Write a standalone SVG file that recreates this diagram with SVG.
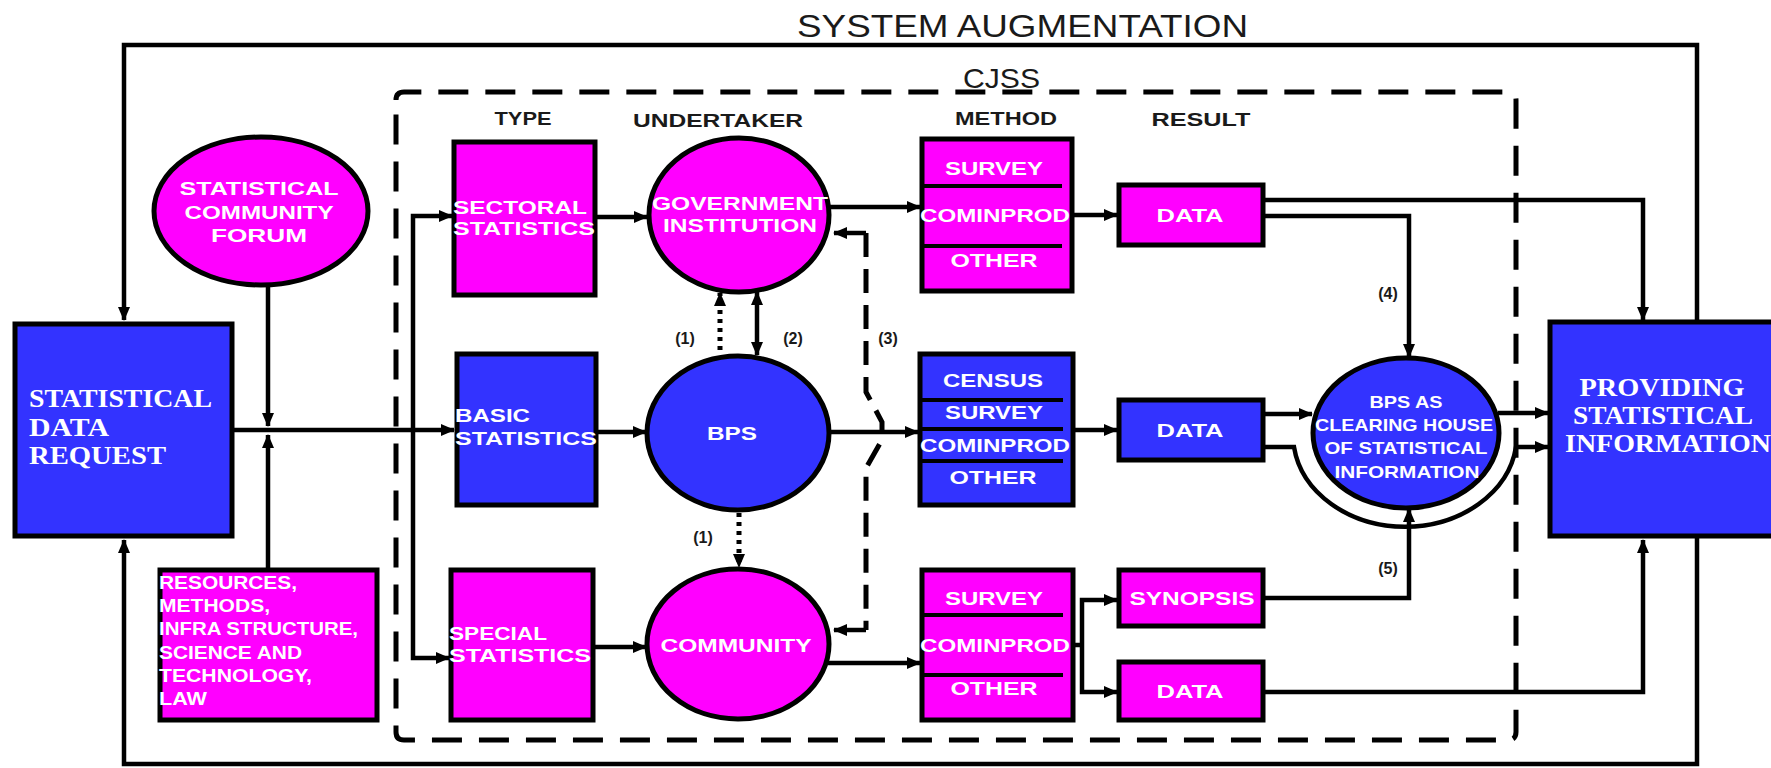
<svg xmlns="http://www.w3.org/2000/svg" width="1771" height="768" viewBox="0 0 1771 768">
<defs>
<marker id="ah" markerUnits="userSpaceOnUse" markerWidth="14" markerHeight="12" refX="13" refY="6" orient="auto-start-reverse" viewBox="0 0 14 12">
<path d="M0,0 L14,6 L0,12 z" fill="#000"/>
</marker>
<style>
.box{stroke:#000;stroke-width:5}
.mag{fill:#ff00ff}
.blu{fill:#3333ff}
.ln{fill:none;stroke:#000;stroke-width:4.5}
.arr{marker-end:url(#ah)}
.dash{fill:none;stroke:#000;stroke-width:5;stroke-dasharray:30 17}
.dot{fill:none;stroke:#000;stroke-width:5;stroke-dasharray:4 5}
.div{stroke:#000;stroke-width:4}
.t{font-family:"Liberation Sans",Arial,sans-serif;font-weight:bold;fill:#fff;dominant-baseline:central;font-size:19px}
.ts{font-family:"Liberation Serif","Times New Roman",serif;font-weight:bold;fill:#fff;dominant-baseline:central}
.h{font-family:"Liberation Sans",Arial,sans-serif;font-weight:bold;fill:#1a1a1a;font-size:19px;text-anchor:middle;dominant-baseline:central}
.lbl{font-family:"Liberation Sans",Arial,sans-serif;font-weight:bold;fill:#1a1a1a;font-size:16px;text-anchor:middle;dominant-baseline:central}
</style>
</defs>
<rect width="1771" height="768" fill="#fff"/>

<g id="cjss-boundary">
<path class="dash" d="M396,100 Q396,92 404,92 H1508 Q1516,92 1516,100 V732 Q1516,740 1508,740 H404 Q396,740 396,732 Z"/>
</g>

<g id="titles">
<text x="797" y="37" font-family="Liberation Sans,Arial,sans-serif" font-size="32" fill="#1a1a1a" textLength="451" lengthAdjust="spacingAndGlyphs">SYSTEM AUGMENTATION</text>
<text x="963" y="88" font-family="Liberation Sans,Arial,sans-serif" font-size="28" fill="#1a1a1a" textLength="77" lengthAdjust="spacingAndGlyphs">CJSS</text>
<text class="h" x="523" y="118" textLength="57" lengthAdjust="spacingAndGlyphs">TYPE</text>
<text class="h" x="718" y="120" textLength="170" lengthAdjust="spacingAndGlyphs">UNDERTAKER</text>
<text class="h" x="1006" y="118" textLength="102" lengthAdjust="spacingAndGlyphs">METHOD</text>
<text class="h" x="1201" y="119" textLength="99" lengthAdjust="spacingAndGlyphs">RESULT</text>
</g>

<g id="connectors">
<path class="ln arr" d="M1697,320 V45 H124 V320"/>
<path class="ln arr" d="M1697,538 V764 H124 V540"/>
<path class="ln arr" d="M234,430 H454"/>
<path class="ln arr" d="M268,285 V426"/>
<path class="ln arr" d="M268,568 V435"/>
<path class="ln arr" d="M413,430 V216 H452"/>
<path class="ln arr" d="M413,430 V658 H449"/>
<path class="ln arr" d="M597,217 H647"/>
<path class="ln arr" d="M598,432 H646"/>
<path class="ln arr" d="M595,647 H646"/>
<path class="ln arr" d="M828,207 H920"/>
<path class="ln arr" d="M829,432 H918"/>
<path class="ln arr" d="M828,663 H920"/>
<path class="ln arr" d="M1074,215 H1117"/>
<path class="ln arr" d="M1075,430 H1117"/>
<path class="ln" d="M1075,645 H1082"/>
<path class="ln arr" d="M1082,645 V600 H1117"/>
<path class="ln arr" d="M1082,645 V692 H1117"/>
<path class="ln arr" d="M1265,200 H1643 V320"/>
<path class="ln arr" d="M1265,216 H1409 V357"/>
<path class="ln arr" d="M1265,414 H1312"/>
<path class="ln arr" d="M1265,447 H1294 A112,92 0 0 0 1516,447 H1548"/>
<path class="ln arr" d="M1498,413 H1548"/>
<path class="ln arr" d="M1265,598 H1409 V509"/>
<path class="ln arr" d="M1265,692 H1643 V540"/>
<path class="dot arr" d="M720,350 V293"/>
<path class="ln arr" d="M757,322 V292"/>
<path class="ln arr" d="M757,322 V355"/>
<path class="dot arr" d="M739,513 V567"/>
<path class="dash" style="stroke-dasharray:24 12" d="M866,233 V392 L882,422 V440 L866,468 V630"/>
<path class="ln arr" d="M866,233 H834"/>
<path class="ln arr" d="M866,630 H834"/>
<text class="lbl" x="685" y="338">(1)</text>
<text class="lbl" x="793" y="338">(2)</text>
<text class="lbl" x="888" y="338">(3)</text>
<text class="lbl" x="703" y="537">(1)</text>
<text class="lbl" x="1388" y="293">(4)</text>
<text class="lbl" x="1388" y="568">(5)</text>
</g>

<g id="statistical-data-request">
<rect class="box blu" x="15" y="324" width="217" height="212"/>
<text class="ts" font-size="25" x="29" y="398" textLength="183" lengthAdjust="spacingAndGlyphs">STATISTICAL</text>
<text class="ts" font-size="25" x="29" y="427" textLength="80" lengthAdjust="spacingAndGlyphs">DATA</text>
<text class="ts" font-size="25" x="29" y="455" textLength="137" lengthAdjust="spacingAndGlyphs">REQUEST</text>
</g>

<g id="statistical-community-forum">
<ellipse class="box mag" cx="261" cy="211" rx="107" ry="74"/>
<text class="t" x="259" y="188" text-anchor="middle" textLength="159" lengthAdjust="spacingAndGlyphs">STATISTICAL</text>
<text class="t" x="259" y="212" text-anchor="middle" textLength="149" lengthAdjust="spacingAndGlyphs">COMMUNITY</text>
<text class="t" x="259" y="235" text-anchor="middle" textLength="96" lengthAdjust="spacingAndGlyphs">FORUM</text>
</g>

<g id="resources">
<rect class="box mag" x="160" y="570" width="217" height="150"/>
<text class="t" x="159" y="582" textLength="138" lengthAdjust="spacingAndGlyphs">RESOURCES,</text>
<text class="t" x="159" y="605" textLength="111" lengthAdjust="spacingAndGlyphs">METHODS,</text>
<text class="t" x="159" y="628" textLength="199" lengthAdjust="spacingAndGlyphs">INFRA STRUCTURE,</text>
<text class="t" x="159" y="652" textLength="143" lengthAdjust="spacingAndGlyphs">SCIENCE AND</text>
<text class="t" x="159" y="675" textLength="153" lengthAdjust="spacingAndGlyphs">TECHNOLOGY,</text>
<text class="t" x="159" y="698" textLength="48" lengthAdjust="spacingAndGlyphs">LAW</text>
</g>

<g id="sectoral-statistics">
<rect class="box mag" x="454" y="142" width="141" height="153"/>
<text class="t" x="453" y="207" textLength="134" lengthAdjust="spacingAndGlyphs">SECTORAL</text>
<text class="t" x="453" y="228" textLength="142" lengthAdjust="spacingAndGlyphs">STATISTICS</text>
</g>

<g id="basic-statistics">
<rect class="box blu" x="457" y="354" width="139" height="151"/>
<text class="t" x="455" y="415" textLength="75" lengthAdjust="spacingAndGlyphs">BASIC</text>
<text class="t" x="455" y="438" textLength="142" lengthAdjust="spacingAndGlyphs">STATISTICS</text>
</g>

<g id="special-statistics">
<rect class="box mag" x="451" y="570" width="142" height="150"/>
<text class="t" x="449" y="633" textLength="98" lengthAdjust="spacingAndGlyphs">SPECIAL</text>
<text class="t" x="449" y="655" textLength="142" lengthAdjust="spacingAndGlyphs">STATISTICS</text>
</g>

<g id="government-institution">
<ellipse class="box mag" cx="739" cy="215" rx="90" ry="77"/>
<text class="t" x="740" y="203" text-anchor="middle" textLength="176" lengthAdjust="spacingAndGlyphs">GOVERNMENT</text>
<text class="t" x="740" y="225" text-anchor="middle" textLength="154" lengthAdjust="spacingAndGlyphs">INSTITUTION</text>
</g>

<g id="bps">
<ellipse class="box blu" cx="738" cy="433" rx="91" ry="77"/>
<text class="t" x="732" y="433" text-anchor="middle" textLength="50" lengthAdjust="spacingAndGlyphs">BPS</text>
</g>

<g id="community">
<ellipse class="box mag" cx="738" cy="644" rx="91" ry="75"/>
<text class="t" x="736" y="645" text-anchor="middle" textLength="151" lengthAdjust="spacingAndGlyphs">COMMUNITY</text>
</g>

<g id="method-government">
<rect class="box mag" x="922" y="139" width="150" height="152"/>
<line class="div" x1="920" y1="186" x2="1062" y2="186"/>
<line class="div" x1="920" y1="246" x2="1062" y2="246"/>
<text class="t" x="994" y="168" text-anchor="middle" textLength="98" lengthAdjust="spacingAndGlyphs">SURVEY</text>
<text class="t" x="995" y="215" text-anchor="middle" textLength="150" lengthAdjust="spacingAndGlyphs">COMINPROD</text>
<text class="t" x="994" y="260" text-anchor="middle" textLength="87" lengthAdjust="spacingAndGlyphs">OTHER</text>
</g>

<g id="method-bps">
<rect class="box blu" x="920" y="354" width="153" height="151"/>
<line class="div" x1="918" y1="400" x2="1063" y2="400"/>
<line class="div" x1="918" y1="429" x2="1063" y2="429"/>
<line class="div" x1="918" y1="461" x2="1063" y2="461"/>
<text class="t" x="993" y="380" text-anchor="middle" textLength="100" lengthAdjust="spacingAndGlyphs">CENSUS</text>
<text class="t" x="994" y="412" text-anchor="middle" textLength="98" lengthAdjust="spacingAndGlyphs">SURVEY</text>
<text class="t" x="995" y="445" text-anchor="middle" textLength="150" lengthAdjust="spacingAndGlyphs">COMINPROD</text>
<text class="t" x="993" y="477" text-anchor="middle" textLength="87" lengthAdjust="spacingAndGlyphs">OTHER</text>
</g>

<g id="method-community">
<rect class="box mag" x="922" y="570" width="151" height="150"/>
<line class="div" x1="920" y1="615" x2="1063" y2="615"/>
<line class="div" x1="920" y1="675" x2="1063" y2="675"/>
<text class="t" x="994" y="598" text-anchor="middle" textLength="98" lengthAdjust="spacingAndGlyphs">SURVEY</text>
<text class="t" x="995" y="645" text-anchor="middle" textLength="150" lengthAdjust="spacingAndGlyphs">COMINPROD</text>
<text class="t" x="994" y="688" text-anchor="middle" textLength="87" lengthAdjust="spacingAndGlyphs">OTHER</text>
</g>

<g id="data-government">
<rect class="box mag" x="1119" y="185" width="144" height="60"/>
<text class="t" x="1190" y="215" text-anchor="middle" textLength="67" lengthAdjust="spacingAndGlyphs">DATA</text>
</g>

<g id="data-bps">
<rect class="box blu" x="1119" y="400" width="144" height="60"/>
<text class="t" x="1190" y="430" text-anchor="middle" textLength="67" lengthAdjust="spacingAndGlyphs">DATA</text>
</g>

<g id="synopsis">
<rect class="box mag" x="1119" y="570" width="144" height="56"/>
<text class="t" x="1192" y="598" text-anchor="middle" textLength="125" lengthAdjust="spacingAndGlyphs">SYNOPSIS</text>
</g>

<g id="data-community">
<rect class="box mag" x="1119" y="662" width="144" height="58"/>
<text class="t" x="1190" y="691" text-anchor="middle" textLength="67" lengthAdjust="spacingAndGlyphs">DATA</text>
</g>

<g id="bps-clearing-house">
<ellipse class="box blu" cx="1406" cy="433" rx="93" ry="75"/>
<text class="t" style="font-size:17px" x="1406" y="402" text-anchor="middle" textLength="73" lengthAdjust="spacingAndGlyphs">BPS AS</text>
<text class="t" style="font-size:17px" x="1404" y="425" text-anchor="middle" textLength="178" lengthAdjust="spacingAndGlyphs">CLEARING HOUSE</text>
<text class="t" style="font-size:17px" x="1406" y="448" text-anchor="middle" textLength="163" lengthAdjust="spacingAndGlyphs">OF STATISTICAL</text>
<text class="t" style="font-size:17px" x="1407" y="472" text-anchor="middle" textLength="145" lengthAdjust="spacingAndGlyphs">INFORMATION</text>
</g>

<g id="providing-statistical-information">
<rect class="box blu" x="1550" y="322" width="240" height="214"/>
<text class="ts" font-size="25" x="1662" y="387" text-anchor="middle" textLength="165" lengthAdjust="spacingAndGlyphs">PROVIDING</text>
<text class="ts" font-size="25" x="1663" y="415" text-anchor="middle" textLength="180" lengthAdjust="spacingAndGlyphs">STATISTICAL</text>
<text class="ts" font-size="25" x="1668" y="443" text-anchor="middle" textLength="206" lengthAdjust="spacingAndGlyphs">INFORMATION</text>
</g>
</svg>
